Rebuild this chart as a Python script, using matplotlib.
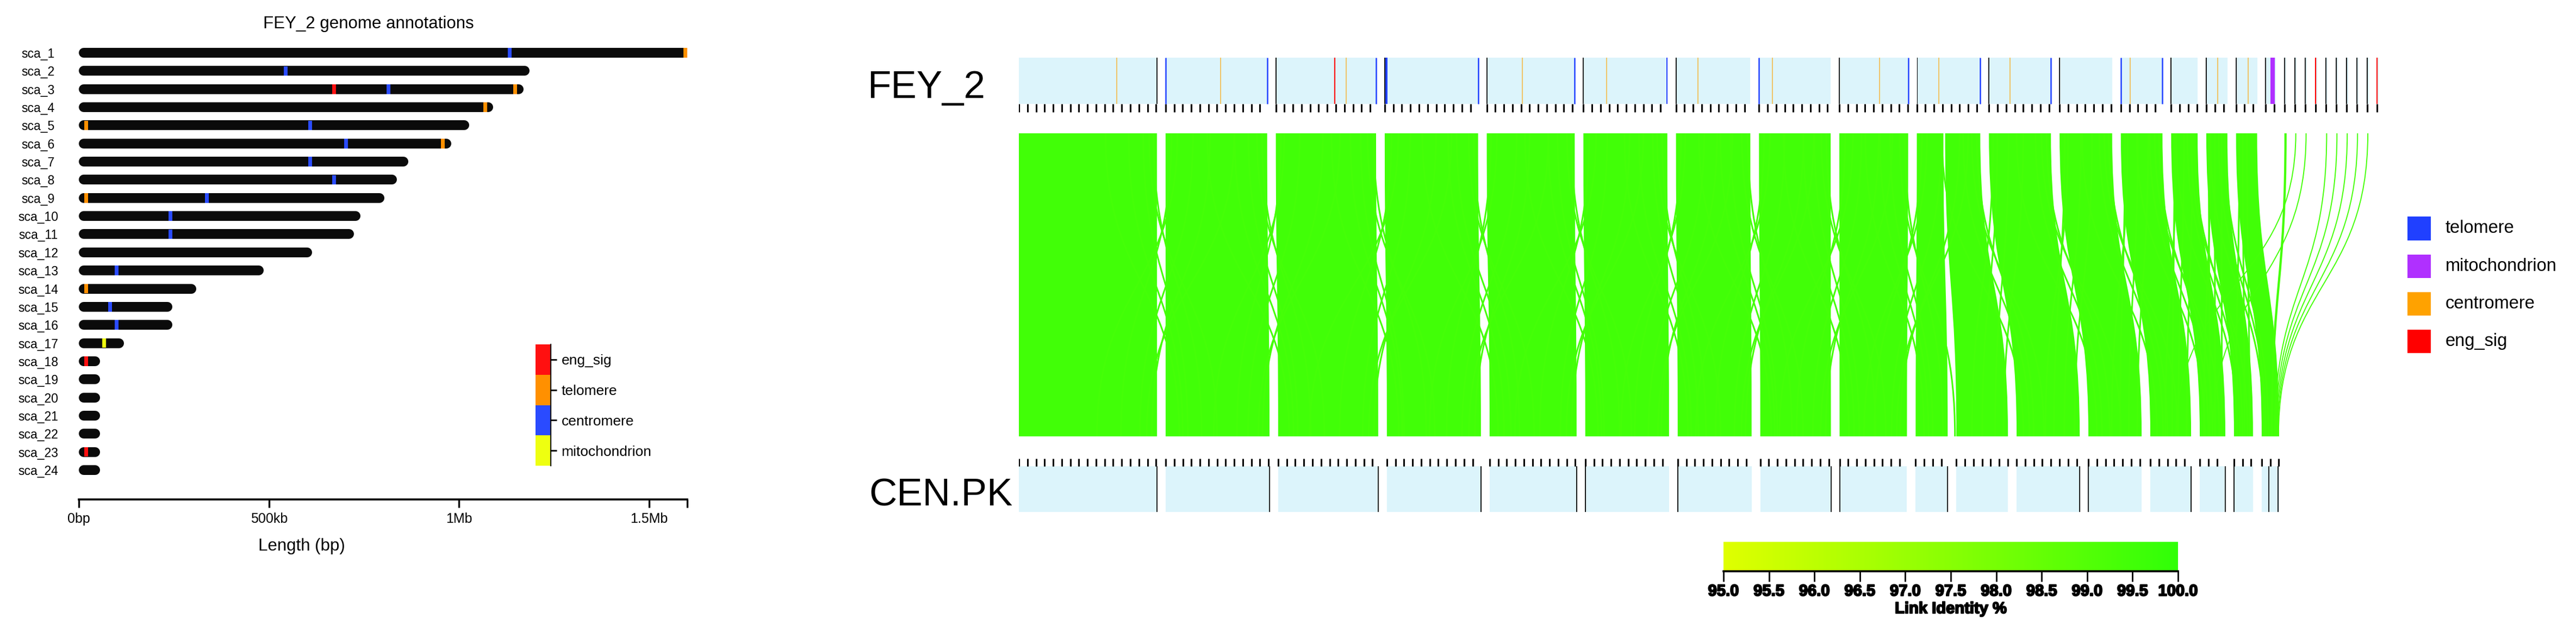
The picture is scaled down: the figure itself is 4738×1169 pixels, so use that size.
import numpy as np
import matplotlib
matplotlib.use('Agg')
import matplotlib.pyplot as plt
from matplotlib.path import Path
from matplotlib.patches import PathPatch, Rectangle
from matplotlib.colors import LinearSegmentedColormap, Normalize
import matplotlib.patheffects as pe

plt.rcParams['font.family'] = ['Liberation Sans', 'DejaVu Sans']

W, H, DPI = 4738, 1169, 100

# ---------------- left panel data (FEY_2 scaffolds, kb) ----------------
sca_names = ['sca_%d' % i for i in range(1, 25)]
sca_len = [1610, 1185, 1169, 1089, 1026, 979, 867, 836, 803, 740, 723, 613,
           486, 309, 246, 246, 119, 56, 56, 56, 56, 56, 56, 56]
# (scaffold index, position kb, annotation)
sca_feat = [(0, 1133, 'centromere'), (0, 1595, 'telomere'), (1, 544, 'centromere'),
            (2, 671, 'eng_sig'), (2, 815, 'centromere'), (2, 1148, 'telomere'),
            (3, 1069, 'telomere'), (4, 19, 'telomere'), (4, 608, 'centromere'),
            (5, 703, 'centromere'), (5, 957, 'telomere'), (6, 608, 'centromere'),
            (7, 671, 'centromere'), (8, 19, 'telomere'), (8, 337, 'centromere'),
            (9, 241, 'centromere'), (10, 241, 'centromere'), (12, 99, 'centromere'),
            (13, 19, 'telomere'), (14, 82, 'centromere'), (15, 99, 'centromere'),
            (16, 67, 'mitochondrion'), (17, 19, 'eng_sig'), (22, 19, 'eng_sig')]
left_legend = ['eng_sig', 'telomere', 'centromere', 'mitochondrion']
left_colors = {'eng_sig': '#FF1010', 'telomere': '#FF9000',
               'centromere': '#2A4BFF', 'mitochondrion': '#EEFF10'}
x_ticks = [0, 500, 1000, 1500, 1600]
x_ticklabels = ['0bp', '500kb', '1Mb', '1.5Mb', '']

# ---------------- right panel data (synteny, kb) ----------------
fey_track_len = [1610, 1185, 1169, 1089, 1026, 979, 867, 836, 803, 740, 723, 613,
                 486, 309, 246, 246, 119, 19, 19, 19, 19, 19, 19, 19, 19, 19, 19]
cen_track_len = [1611, 1211, 1167, 1097, 1015, 977, 862, 824, 786, 374, 602, 736,
                 621, 476, 298, 222, 203]
# (scaffold, start kb, end kb, type)
fey_marks = [(0, 1141, 1141, 'centromere'), (0, 1610, 1610, 'edge'),
             (1, 0, 0, 'telomere'), (1, 641, 641, 'centromere'), (1, 1185, 1185, 'telomere'),
             (2, 0, 0, 'edge'), (2, 685, 685, 'eng_sig'), (2, 818, 818, 'centromere'),
             (2, 1169, 1169, 'telomere'),
             (3, 0, 0, 'edge'), (3, 8, 30, 'telomere'), (3, 1089, 1089, 'telomere'),
             (4, 0, 0, 'edge'), (4, 418, 418, 'centromere'), (4, 1026, 1026, 'telomere'),
             (5, 0, 0, 'edge'), (5, 273, 273, 'centromere'), (5, 968, 979, 'telomere'),
             (6, 0, 0, 'edge'), (6, 254, 254, 'centromere'),
             (7, 0, 0, 'telomere'), (7, 159, 159, 'centromere'),
             (8, 0, 0, 'edge'), (8, 470, 470, 'centromere'), (8, 803, 803, 'telomere'),
             (9, 0, 10, 'edge'), (9, 254, 254, 'centromere'), (9, 740, 740, 'telomere'),
             (10, 0, 0, 'edge'), (10, 247, 247, 'centromere'), (10, 723, 723, 'telomere'),
             (11, 0, 0, 'edge'),
             (12, 0, 0, 'telomere'), (12, 108, 108, 'centromere'), (12, 486, 486, 'telomere'),
             (13, 0, 0, 'edge'),
             (14, 0, 0, 'edge'), (14, 133, 133, 'centromere'),
             (15, 0, 0, 'edge'), (15, 140, 140, 'centromere'),
             (16, 0, 0, 'edge'), (16, 57, 102, 'mitochondrion'),
             (17, 0, 0, 'edge'), (18, 0, 0, 'edge'), (19, 0, 0, 'edge'), (20, 0, 0, 'eng_sig'),
             (21, 0, 0, 'edge'), (22, 0, 0, 'edge'), (23, 0, 0, 'edge'), (24, 0, 0, 'edge'),
             (25, 0, 0, 'edge'), (26, 0, 0, 'eng_sig')]
cen_marks = [(0, 1611), (1, 1211), (2, 1167), (3, 1097), (4, 1015), (5, 0), (6, 0),
             (7, 824), (8, 0), (9, 374), (11, 736), (12, 0), (13, 476), (14, 298),
             (15, 0), (16, 82), (16, 190)]
# synteny blocks: (FEY scaffold, start, end, CEN scaffold, start, end, identity %)
syn_links = [(0, 0, 1610, 0, 0, 1611, 99.5), (1, 0, 1185, 1, 0, 1211, 99.5),
             (2, 0, 1169, 2, 0, 1167, 99.5), (3, 0, 1089, 3, 0, 1097, 99.5),
             (4, 0, 1026, 4, 0, 1015, 99.5), (5, 0, 979, 5, 0, 977, 99.5),
             (6, 0, 867, 6, 0, 862, 99.5), (7, 0, 836, 7, 0, 824, 99.5),
             (8, 0, 803, 8, 0, 786, 99.5), (9, 0, 310, 9, 0, 374, 99.5),
             (9, 330, 740, 10, 0, 602, 99.5), (10, 0, 723, 11, 0, 736, 99.5),
             (11, 0, 613, 12, 0, 621, 99.5), (12, 0, 486, 13, 0, 476, 99.5),
             (13, 0, 309, 14, 0, 298, 99.5), (14, 0, 246, 15, 0, 222, 99.5),
             (15, 0, 246, 16, 0, 203, 99.5)]
# short links crossing scaffold breaks: (FEY break, kb from break, CEN break, kb from break)
cross_links = [
    (0, -40, 0, 520), (0, -160, 0, 360), (0, -600, 0, 260), (0, 240, 0, -700), (0, 420, 0, -200), (0, 620, 0, -60),
    (0, -90, 0, 700), (0, -330, 0, 300), (0, 170, 0, -420), (0, 900, 0, -120),
    (1, -60, 1, 480), (1, -220, 1, 330), (1, -700, 1, 230), (1, 200, 1, -650), (1, 380, 1, -250), (1, 650, 1, -80),
    (1, -120, 1, 640), (1, -380, 1, 280), (1, 160, 1, -380), (1, 850, 1, -130),
    (2, -30, 2, 560), (2, -180, 2, 300), (2, -520, 2, 240), (2, 260, 2, -800), (2, 400, 2, -180), (2, 700, 2, -50),
    (2, -100, 2, 660), (2, -300, 2, 280), (2, 180, 2, -450), (2, 880, 2, -110),
    (3, -50, 3, 450), (3, -250, 3, 350), (3, -650, 3, 200), (3, 220, 3, -600), (3, 450, 3, -220), (3, 600, 3, -70),
    (3, -110, 3, 620), (3, -350, 3, 270), (3, 150, 3, -400), (3, 820, 3, -140),
    (4, -40, 4, 500), (4, -200, 4, 320), (4, -580, 4, 250), (4, 250, 4, -720), (4, 380, 4, -190), (4, 640, 4, -60),
    (4, -90, 4, 640), (4, -310, 4, 290), (4, 170, 4, -430), (4, 800, 4, -120),
    (5, -60, 5, 430), (5, -170, 5, 340), (5, -500, 5, 220), (5, 210, 5, -560), (5, 430, 5, -240), (5, 580, 5, -90),
    (5, -120, 5, 600), (5, -330, 5, 260), (5, 160, 5, -400), (5, 760, 5, -130),
    (6, -30, 6, 470), (6, -230, 6, 300), (6, -600, 6, 230), (6, 230, 6, -650), (6, 400, 6, -200), (6, 620, 6, -70),
    (6, -100, 6, 600), (6, -350, 6, 270), (6, 160, 6, -420), (6, 740, 6, -120),
    (7, -50, 7, 520), (7, -190, 7, 330), (7, -550, 7, 210), (7, 260, 7, -600), (7, 360, 7, -210), (7, 560, 7, -60),
    (7, -110, 7, 640), (7, -320, 7, 270), (7, 170, 7, -400), (7, 720, 7, -120),
    (8, -40, 8, 420), (8, -210, 8, 300), (8, -500, 8, 200), (8, 220, 8, -500), (8, 390, 8, -180), (8, 600, 8, -80),
    (8, -100, 8, 560), (8, -330, 8, 250), (8, 160, 8, -380), (8, 700, 8, -120),
    (9, -40, 10, 300), (9, -200, 10, 250), (9, -450, 10, 180), (9, 200, 10, -300), (9, 330, 10, -150), (9, 500, 10, -50),
    (9, -100, 10, 420), (9, 150, 10, -420),
    (10, -50, 11, 350), (10, -180, 11, 260), (10, -400, 11, 200), (10, 200, 11, -400), (10, 350, 11, -180), (10, 480, 11, -60),
    (10, -110, 11, 480), (10, 160, 11, -300),
    (11, -40, 12, 300), (11, -150, 12, 250), (11, -350, 12, 180), (11, 180, 12, -350), (11, 300, 12, -150), (11, 420, 12, -50),
    (11, -90, 12, 420), (11, 150, 12, -250),
    (12, -40, 13, 250), (12, -150, 13, 200), (12, -300, 13, 160), (12, 160, 13, -300), (12, 250, 13, -150), (12, 350, 13, -50),
    (12, -90, 13, 330), (12, 140, 13, -220),
    (13, -40, 14, 200), (13, -120, 14, 170), (13, -250, 14, 140), (13, 150, 14, -250), (13, 200, 14, -120), (13, 280, 14, -40),
    (13, -80, 14, 260), (13, 130, 14, -180),
    (14, -30, 15, 180), (14, -100, 15, 150), (14, -200, 15, 130), (14, 140, 15, -200), (14, 180, 15, -100), (14, 230, 15, -40)]
# links from the small FEY scaffolds: (FEY scaffold, kb, CEN scaffold, kb)
small_links = [(17, 10, 16, 118), (18, 10, 13, 300), (19, 10, 14, 150), (21, 10, 16, 150),
               (22, 10, 16, 163), (23, 10, 16, 175), (24, 10, 16, 186), (25, 10, 16, 196)]
right_legend = ['telomere', 'mitochondrion', 'centromere', 'eng_sig']
right_colors = {'telomere': '#2040FF', 'mitochondrion': '#B030FF', 'centromere': '#FFA200',
                'eng_sig': '#FF0000', 'edge': '#000000'}
cb_ticks = [95.0, 95.5, 96.0, 96.5, 97.0, 97.5, 98.0, 98.5, 99.0, 99.5, 100.0]


def fx(px):
    return px / W


def fy(py):
    return 1 - py / H


fig = plt.figure(figsize=(W / DPI, H / DPI), dpi=DPI)

# ================= left panel =================
ax = fig.add_axes([fx(145), fy(918), fx(1264) - fx(145), fy(60) - fy(918)])
ax.set_xlim(0, 1600)
ax.set_ylim(24.62, -1.11)
bar_px = 18
row_px = 858 / (24.62 + 1.11)
r_kb = bar_px / 2 * 1600 / (1264 - 145)
for i, L in enumerate(sca_len):
    ax.plot([r_kb, L - r_kb], [i, i], color='#0B0B0B', lw=bar_px * 72 / DPI,
            solid_capstyle='round', zorder=2)
for i, pos, kind in sca_feat:
    ax.barh(i, 10, left=pos - 5, height=bar_px / row_px * 0.98,
            color=left_colors[kind], lw=0, zorder=3)
ax.set_yticks(range(len(sca_names)))
ax.set_yticklabels(sca_names, fontsize=16.5)
for lab in ax.get_yticklabels():
    lab.set_ha('center')
ax.tick_params(axis='y', length=0, pad=54)
ax.set_xticks(x_ticks)
ax.set_xticklabels(x_ticklabels, fontsize=18)
ax.tick_params(axis='x', length=11, width=2.4, pad=6)
for s in ['top', 'left', 'right']:
    ax.spines[s].set_visible(False)
ax.spines['bottom'].set_linewidth(2.6)
fig.text(fx(678), fy(44), 'FEY_2 genome annotations', ha='center', va='center', fontsize=22.5)
fig.text(fx(555), fy(1004), 'Length (bp)', ha='center', va='center', fontsize=22.5)

lg = fig.add_axes([fx(985), fy(856), fx(1013) - fx(985), fy(633) - fy(856)])
for k, name in enumerate(left_legend):
    lg.bar(0, 1, bottom=k, width=1, color=left_colors[name], lw=0)
lg.set_xlim(-0.5, 0.5)
lg.set_ylim(4, 0)
lg.yaxis.tick_right()
lg.set_yticks([k + 0.5 for k in range(4)])
lg.set_yticklabels(left_legend, fontsize=19)
lg.tick_params(axis='y', length=8, width=2, pad=6)
lg.set_xticks([])
for s in ['top', 'left', 'bottom']:
    lg.spines[s].set_visible(False)
lg.spines['right'].set_linewidth(1.5)

# ================= right panel =================
px_per_kb = 0.1577
x0 = 1874
axr = fig.add_axes([fx(x0), 0, 1 - fx(x0), 1])
axr.set_xlim(0, (W - x0) / px_per_kb)
axr.set_ylim(H, 0)
axr.axis('off')


def starts(lengths, gap=101):
    out, pos = [], 0
    for L in lengths:
        out.append(pos)
        pos += L + gap
    return out


fey_start = starts(fey_track_len)
cen_start = starts(cen_track_len)
track_blue = '#DCF4FB'
yt, yb = 245, 802
ym = (yt + yb) / 2
cmap = LinearSegmentedColormap.from_list('lid', ['#E0FF00', '#30FF08'])
norm = Normalize(95, 100)

# links
for ti, t0, t1, bi, b0, b1, ident in syn_links:
    xt0, xt1 = fey_start[ti] + t0, fey_start[ti] + t1
    xb0, xb1 = cen_start[bi] + b0, cen_start[bi] + b1
    verts = [(xt0, yt), (xt1, yt), (xt1, ym), (xb1, ym), (xb1, yb), (xb0, yb),
             (xb0, ym), (xt0, ym), (xt0, yt), (xt0, yt)]
    codes = [Path.MOVETO, Path.LINETO, Path.CURVE4, Path.CURVE4, Path.CURVE4,
             Path.LINETO, Path.CURVE4, Path.CURVE4, Path.CURVE4, Path.CLOSEPOLY]
    axr.add_patch(PathPatch(Path(verts, codes), facecolor=cmap(norm(ident)),
                            edgecolor='none', zorder=1))

link_col = cmap(norm(99.4))


def curve(xt, xb, lw):
    verts = [(xt, yt), (xt, ym), (xb, ym), (xb, yb)]
    codes = [Path.MOVETO, Path.CURVE4, Path.CURVE4, Path.CURVE4]
    axr.add_patch(PathPatch(Path(verts, codes), facecolor='none', edgecolor=link_col,
                            lw=lw, zorder=1))


for tg, trel, bg, brel in cross_links:
    gt = fey_start[tg] + fey_track_len[tg]
    gb = cen_start[bg] + cen_track_len[bg]
    curve(gt + trel, gb + brel, 2.2)
for ti, tk, bi, bk in small_links:
    curve(fey_start[ti] + tk, cen_start[bi] + bk, 3 if ti == 17 else 1.4)

# FEY_2 track
for i, L in enumerate(fey_track_len):
    s = fey_start[i]
    axr.add_patch(Rectangle((s, 106), L, 85, facecolor=track_blue, lw=0, zorder=2))
    axr.vlines(s + np.arange(0, L + 1, 100), 191, 206, color='black', lw=2.2, zorder=3)
for i, a, b, kind in fey_marks:
    s = fey_start[i]
    if b > a:
        axr.add_patch(Rectangle((s + a, 106), b - a, 85, facecolor=right_colors[kind],
                                lw=0, zorder=4))
    else:
        lw = {'edge': 1.3, 'telomere': 1.8, 'centromere': 1.2, 'eng_sig': 1.6}[kind]
        alpha = 0.7 if kind == 'centromere' else 1
        axr.vlines(s + a, 106, 191, color=right_colors[kind], lw=lw, alpha=alpha, zorder=4)

# CEN.PK track
for i, L in enumerate(cen_track_len):
    s = cen_start[i]
    axr.add_patch(Rectangle((s, 857), L, 84, facecolor=track_blue, lw=0, zorder=2))
    axr.vlines(s + np.arange(0, L + 1, 100), 843, 857, color='black', lw=2.2, zorder=3)
for i, a in cen_marks:
    axr.vlines(cen_start[i] + a, 857, 941, color='black', lw=1.3, zorder=4)

fig.text(fx(1595), fy(180), 'FEY_2', fontsize=51, va='baseline', ha='left')
fig.text(fx(1598), fy(930), 'CEN.PK', fontsize=51, va='baseline', ha='left')

# right legend
for k, name in enumerate(right_legend):
    cy = 420 + k * 69.3
    fig.add_artist(Rectangle((fx(4428), fy(cy + 21.5)), 43 / W, 43 / H,
                             transform=fig.transFigure, facecolor=right_colors[name], lw=0))
    fig.text(fx(4498), fy(cy), name, va='center', ha='left', fontsize=23.5)

# colour bar
heavy = [pe.withStroke(linewidth=1.6, foreground='black')]
cb = fig.add_axes([fx(3170), fy(1050), fx(4006) - fx(3170), fy(996) - fy(1050)])
cb.imshow(np.linspace(95, 100, 256)[None, :], cmap=cmap, norm=norm,
          extent=(95, 100, 0, 1), aspect='auto')
cb.set_xlim(95, 100)
cb.set_yticks([])
cb.set_xticks(cb_ticks)
cb.set_xticklabels(['%.1f' % v for v in cb_ticks], fontsize=21, fontweight='bold')
for t in cb.get_xticklabels():
    t.set_path_effects(heavy)
cb.tick_params(axis='x', length=13.5, width=2, pad=3)
cb.set_xlabel('Link Identity %', fontsize=21, fontweight='bold', labelpad=3,
              path_effects=heavy)
for s in ['top', 'left', 'right']:
    cb.spines[s].set_visible(False)
cb.spines['bottom'].set_linewidth(2.6)

fig.savefig('out.png', dpi=DPI)
